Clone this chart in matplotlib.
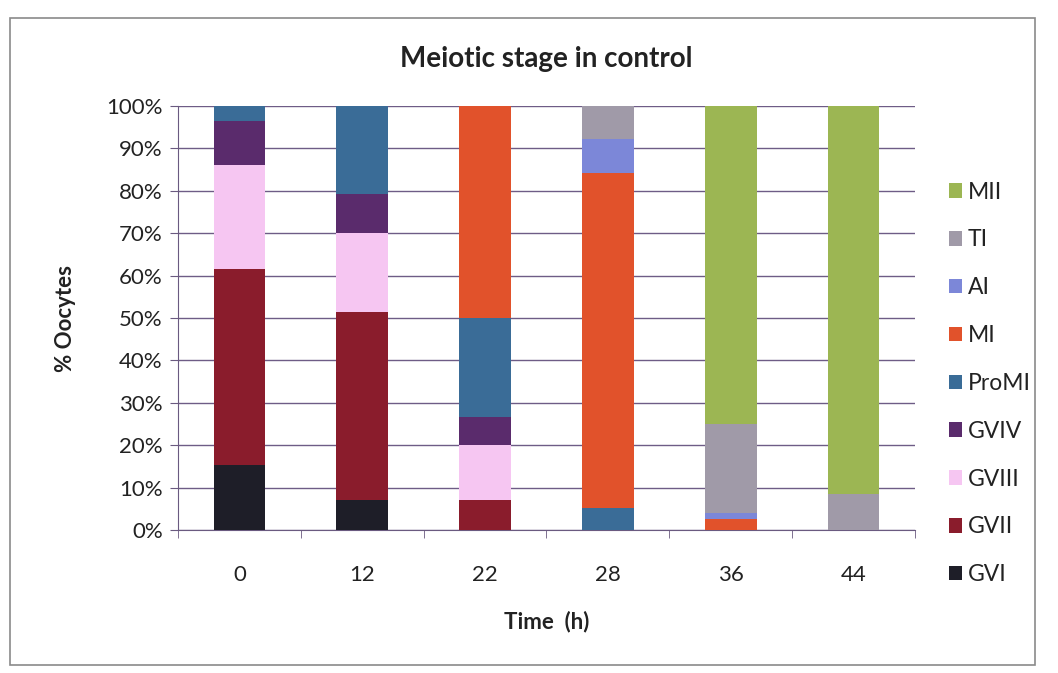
import matplotlib
matplotlib.use("Agg")
import matplotlib.pyplot as plt
from matplotlib.patches import Rectangle, Patch
from matplotlib.ticker import PercentFormatter, FixedLocator
import numpy as np

plt.rcParams['font.family'] = ['Lato', 'DejaVu Sans']

times = ["0", "12", "22", "28", "36", "44"]
stages = ["GVI", "GVII", "GVIII", "GVIV", "ProMI", "MI", "AI", "TI", "MII"]

# percent of oocytes in each stage, one list per stage (same order as times)
gvi   = [15.4, 7.0, 0.0, 0.0, 0.0, 0.0]
gvii  = [46.1, 44.5, 7.1, 0.0, 0.0, 0.0]
gviii = [24.6, 18.5, 12.9, 0.0, 0.0, 0.0]
gviv  = [10.3, 9.3, 6.7, 0.0, 0.0, 0.0]
promi = [3.6, 20.7, 23.3, 5.3, 0.0, 0.0]
mi    = [0.0, 0.0, 50.0, 78.9, 2.5, 0.0]
ai    = [0.0, 0.0, 0.0, 7.9, 1.5, 0.0]
ti    = [0.0, 0.0, 0.0, 7.9, 21.0, 8.6]
mii   = [0.0, 0.0, 0.0, 0.0, 75.0, 91.4]

colors = ["#1e1e28", "#8a1c2c", "#f6c6f2", "#5a2b6c", "#3a6c97",
          "#e1522b", "#7c87d8", "#a09aa8", "#9cb653"]

fig = plt.figure(figsize=(10.58, 6.73), dpi=100)
ax = fig.add_axes([178 / 1058, 1 - 530 / 673, 737 / 1058, 424 / 673])

# outer chart border
fig.patches.append(Rectangle((10 / 1058, 1 - 665 / 673), 1025 / 1058, 647 / 673,
                             transform=fig.transFigure, fill=False,
                             edgecolor="#8a8a8a", linewidth=1.2))

x = np.arange(len(times))
bottom = np.zeros(len(times))
series = [gvi, gvii, gviii, gviv, promi, mi, ai, ti, mii]
for name, vals, c in zip(stages, series, colors):
    ax.bar(x, vals, width=0.42, bottom=bottom, color=c, label=name, zorder=3)
    bottom += np.array(vals)

ax.set_xlim(-0.5, len(times) - 0.5)
ax.set_ylim(0, 100)
ax.set_yticks(np.arange(0, 101, 10))
ax.yaxis.set_major_formatter(PercentFormatter(decimals=0))
ax.set_xticks(x)
ax.set_xticklabels(times)
ax.xaxis.set_minor_locator(FixedLocator(np.arange(-0.5, len(times), 1)))
ax.tick_params(axis="x", which="major", length=0, pad=25, labelsize=16,
               labelcolor="#222222")
ax.tick_params(axis="x", which="minor", length=6, color="#6a5a80", direction="out")
ax.tick_params(axis="y", length=6, color="#6a5a80", labelsize=16, pad=5,
               labelcolor="#222222")

ax.grid(axis="y", color="#6e5c86", linewidth=1.0, zorder=0)
for s in ["top", "right"]:
    ax.spines[s].set_visible(False)
ax.spines["left"].set_color("#6a5a80")
ax.spines["bottom"].set_color("#6a5a80")

ax.set_title("Meiotic stage in control", fontsize=20, fontweight="bold", pad=28,
             color="#222222")
ax.set_ylabel("% Oocytes", fontsize=16, fontweight="bold", labelpad=22,
              color="#222222")
ax.set_xlabel("Time  (h)", fontsize=16, fontweight="bold", labelpad=19,
              color="#222222")

handles = [Patch(facecolor=c) for c in colors][::-1]
fig.legend(handles, stages[::-1], loc="upper left",
           bbox_to_anchor=(928 / 1058, 1 - 161 / 673), frameon=False,
           fontsize=16.5, handlelength=0.6, handleheight=0.6,
           handletextpad=0.25, labelspacing=1.17, labelcolor="#222222")

fig.savefig("out.png", dpi=100)
